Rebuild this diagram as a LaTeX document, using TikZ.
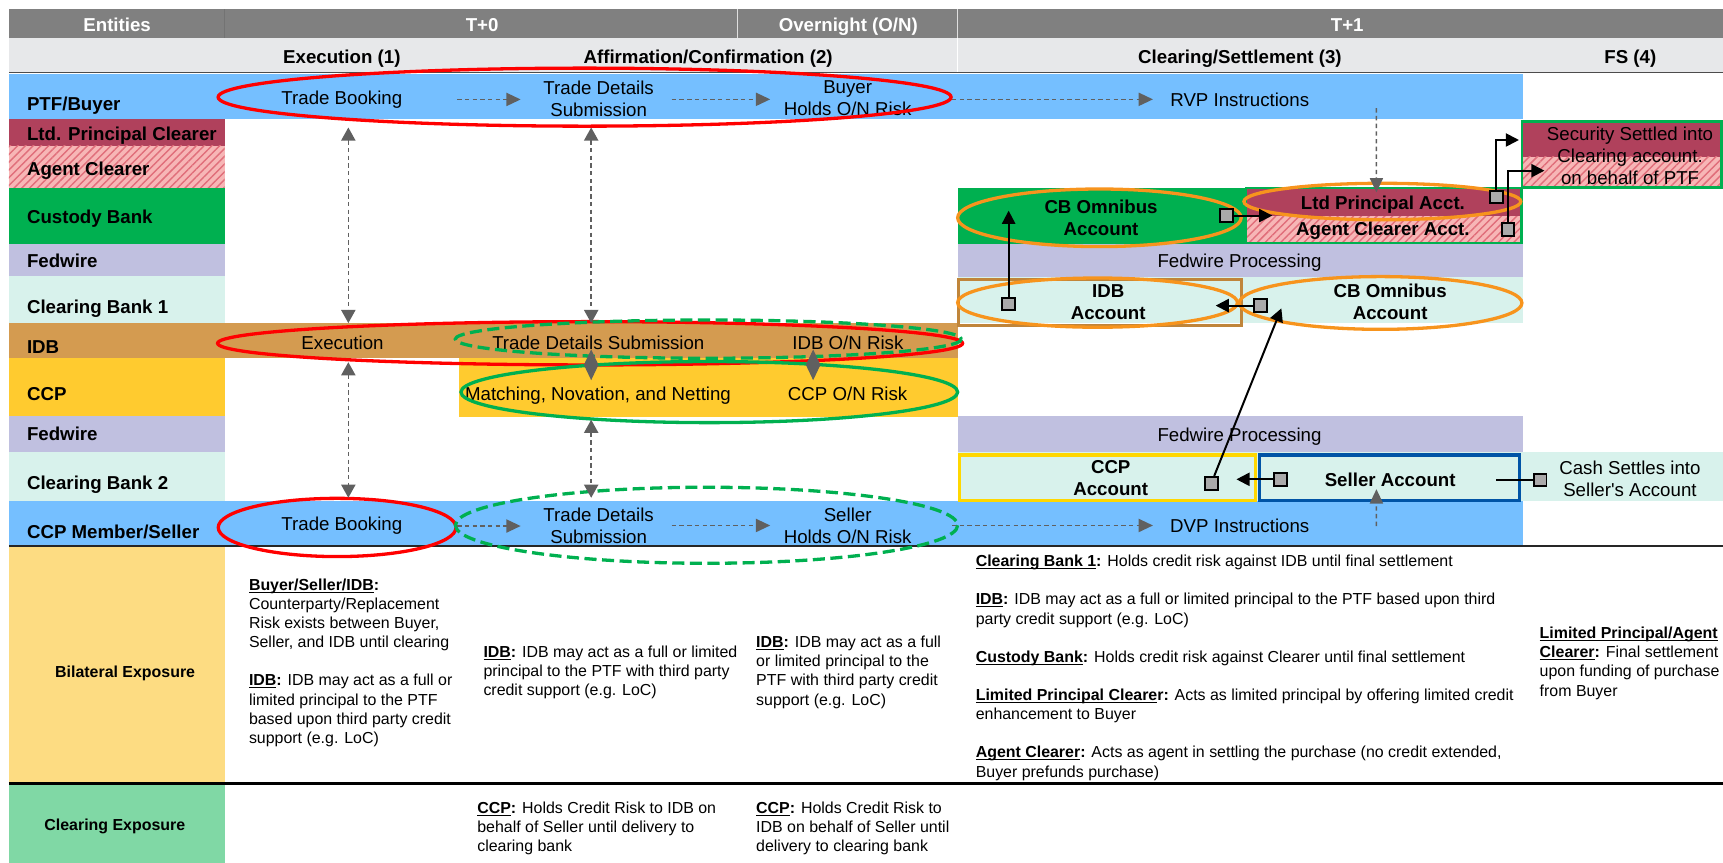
\documentclass[tikz,border=0pt]{standalone}
\usepackage{fontspec}
\setmainfont{Liberation Sans}
\usetikzlibrary{arrows.meta, positioning, calc, patterns.meta}

\definecolor{hdrgray}{RGB}{128,128,128}
\definecolor{subgray}{RGB}{231,232,234}
\definecolor{ptfblue}{RGB}{117,191,255}
\definecolor{ltdred}{RGB}{176,65,92}
\definecolor{hatchbg}{RGB}{247,182,182}
\definecolor{hatchln}{RGB}{224,110,122}
\definecolor{custgreen}{RGB}{0,176,80}
\definecolor{fedlav}{RGB}{192,192,224}
\definecolor{cbmint}{RGB}{216,242,236}
\definecolor{idbtan}{RGB}{212,155,80}
\definecolor{ccpyellow}{RGB}{255,203,47}
\definecolor{bilyellow}{RGB}{253,220,130}
\definecolor{clrgreen}{RGB}{128,216,165}
\definecolor{ringred}{RGB}{255,0,0}
\definecolor{ringgreen}{RGB}{0,176,80}
\definecolor{ringorange}{RGB}{247,148,29}
\definecolor{boxbrown}{RGB}{192,133,58}
\definecolor{boxyellow}{RGB}{255,215,0}
\definecolor{boxblue}{RGB}{0,84,166}
\definecolor{flowgray}{RGB}{96,96,96}
\definecolor{sqgray}{RGB}{170,170,170}

\newcommand{\bodyfont}{\fontsize{17}{20}\selectfont}
\newcommand{\notefont}{\fontsize{14.5}{17.4}\selectfont}
\newcommand{\uhead}[1]{\underline{\raisebox{0pt}[\height][0pt]{\textbf{#1}}}}

\tikzset{
	lbl/.style={anchor=base west, inner sep=0pt, font=\bodyfont\bfseries},
	hdr/.style={anchor=base, inner sep=0pt, text=white, font=\bodyfont\bfseries},
	phase/.style={anchor=base, inner sep=0pt, font=\bodyfont\bfseries},
	txt/.style={align=center, inner sep=0pt},
	acct/.style={txt, font=\bodyfont\bfseries},
	note/.style={anchor=north west, align=left, inner sep=0pt, font=\notefont},
	hatch/.style={pattern={Lines[angle=45,distance=5pt,line width=1.3pt]}, pattern color=hatchln},
	sq/.style={draw=black, fill=sqgray, line width=1.8pt, minimum size=11.5pt, inner sep=0pt},
	flow/.style={draw=flowgray, line width=1.3pt, dash pattern=on 4pt off 3pt, -{Triangle[length=13pt,width=12pt]}},
	dflow/.style={flow, {Triangle[length=12pt,width=13pt]}-{Triangle[length=12pt,width=13pt]}},
	diam/.style={draw=flowgray, fill=flowgray, line width=1pt, {Triangle[length=14pt,width=13pt]}-{Triangle[length=14pt,width=13pt]}},
	blk/.style={draw=black, line width=1.8pt, -{Triangle[length=12pt,width=12pt]}},
	blkline/.style={draw=black, line width=1.8pt},
	redring/.style={draw=ringred, line width=3pt},
	grnring/.style={draw=ringgreen, line width=3pt},
	grndash/.style={grnring, dash pattern=on 11pt off 5pt},
	orgring/.style={draw=ringorange, line width=3pt}
}

\begin{document}
\begin{tikzpicture}[x=1pt, y=-1pt, font=\bodyfont]
	\useasboundingbox (0,0) rectangle (1568,785);
	
	% Header rows
	\fill[hdrgray] (8,8.2) rectangle (1568,34.3);
	\fill[subgray] (8,34.3) rectangle (1568,66);
	\draw[black!55, line width=1pt] (204.4,8.2) -- (204.4,34.3);
	\draw[white!75!gray, line width=1.2pt] (671.3,8.2) -- (671.3,34.3) (871.5,8.2) -- (871.5,34.3);
	\draw[white, line width=0.8pt] (871.5,34.3) -- (871.5,66);
	\draw[black!70, line width=1.2pt] (8,66) -- (1568,66);
	
	% Entity rows
	\fill[ptfblue] (8,67) rectangle (1385.7,108);
	\fill[ltdred] (8,108) rectangle (204.4,132.8);
	\fill[hatchbg] (8,132.8) rectangle (204.4,170.8);
	\fill[hatch] (8,132.8) rectangle (204.4,170.8);
	\fill[custgreen] (8,170.8) rectangle (204.4,221.8);
	\fill[fedlav] (8,221.8) rectangle (204.4,251.5);
	\fill[cbmint] (8,251.5) rectangle (204.4,294);
	\fill[idbtan] (8,294) rectangle (871.5,326);
	\fill[ccpyellow] (8,326) rectangle (204.4,379);
	\fill[ccpyellow] (417.9,326) rectangle (871.5,379.2);
	\fill[fedlav] (8,379) rectangle (204.4,411);
	\fill[cbmint] (8,411) rectangle (204.4,455.5);
	\fill[ptfblue] (8,455.5) rectangle (1385.7,496.8);
	\fill[bilyellow] (8,496.8) rectangle (204.4,712.8);
	\fill[clrgreen] (8,712.8) rectangle (204.4,785);
	
	% T+1 settlement area
	\fill[custgreen] (871.5,171.4) rectangle (1385.7,222);
	\fill[ltdred] (1133.6,171.4) rectangle (1384,197);
	\fill[hatchbg] (1133.6,197) rectangle (1384,221.5);
	\fill[hatch] (1133.6,197) rectangle (1384,221.5);
	\draw[custgreen, line width=2pt] (1133.6,171.4) rectangle (1384,221.5);
	\fill[fedlav] (871.5,222) rectangle (1385.7,251.7);
	\fill[cbmint] (871.5,251.7) rectangle (1385.7,293.6);
	\fill[fedlav] (871.5,378.5) rectangle (1385.7,411);
	\fill[cbmint] (871.5,411) rectangle (1568,455.6);
	\fill[ltdred] (1385,110.7) rectangle (1567,142.6);
	\fill[hatchbg] (1385,142.6) rectangle (1567,170.8);
	\fill[hatch] (1385,142.6) rectangle (1567,170.8);
	\draw[custgreen, line width=2.5pt] (1385,110.7) rectangle (1566.6,170.8);
	\draw[boxbrown, line width=3pt] (872.5,254.5) rectangle (1129.6,296.5);
	\draw[boxyellow, line width=3pt] (873,414) rectangle (1142.8,455.5);
	\draw[boxblue, line width=3pt] (1146.5,414) rectangle (1383,455.5);
	
	% Separators
	\draw[black!85, line width=1.3pt] (8,496.8) -- (1568,496.8);
	\draw[black, line width=2.5pt] (8,712.8) -- (1568,712.8);
	
	% Headers
	\node[hdr] (h-ent) at (106.6,28.8) {Entities};
	\node[hdr] (h-t0) at (438.8,28.8) {T+0};
	\node[hdr] (h-on) at (772,28.8) {Overnight (O/N)};
	\node[hdr] (h-t1) at (1226,28.8) {T+1};
	\node[phase] (p-exec) at (311.1,57.7) {Execution (1)};
	\node[phase] (p-aff) at (644.4,57.7) {Affirmation/Confirmation (2)};
	\node[phase] (p-clr) at (1128.4,57.7) {Clearing/Settlement (3)};
	\node[phase] (p-fs) at (1483.7,57.7) {FS (4)};
	
	% Entities
	\node[lbl] (e-ptf) at (24.4,100.7) {PTF/Buyer};
	\node[lbl] (e-ltd) at (24.4,128) {Ltd. Principal Clearer};
	\node[lbl] (e-agent) at (24.4,159.3) {Agent Clearer};
	\node[lbl] (e-cust) at (24.4,203.3) {Custody Bank};
	\node[lbl] (e-fed1) at (24.4,243.3) {Fedwire};
	\node[lbl] (e-cb1) at (24.4,285.1) {Clearing Bank 1};
	\node[lbl] (e-idb) at (24.4,322.1) {IDB};
	\node[lbl] (e-ccp) at (24.4,364.9) {CCP};
	\node[lbl] (e-fed2) at (24.4,401.3) {Fedwire};
	\node[lbl] (e-cb2) at (24.4,445.9) {Clearing Bank 2};
	\node[lbl] (e-seller) at (24.4,489.9) {CCP Member/Seller};
	\node[font=\notefont\bfseries] (bil) at (113.9,612.5) {Bilateral Exposure};
	\node[font=\notefont\bfseries] (clr) at (104.5,752.5) {Clearing Exposure};
	
	% Process steps
	\node[txt] (ptf-book) at (311.1,90.5) {Trade Booking};
	\node[txt] (ptf-submit) at (544.8,90) {Trade Details\\Submission};
	\node[txt] (ptf-risk) at (771.4,89.5) {Buyer\\Holds O/N Risk};
	\node[txt] (ptf-rvp) at (1128.2,90.5) {RVP Instructions};
	\node[txt] (idb-exec) at (311.7,312) {Execution};
	\node[txt] (idb-submit) at (544.5,312) {Trade Details Submission};
	\node[txt] (idb-risk) at (771.6,312) {IDB O/N Risk};
	\node[txt] (ccp-match) at (544.2,360.4) {Matching, Novation, and Netting};
	\node[txt] (ccp-risk) at (771.4,358.3) {CCP O/N Risk};
	\node[txt] (sel-book) at (311.1,478.7) {Trade Booking};
	\node[txt] (sel-submit) at (544.8,478.2) {Trade Details\\Submission};
	\node[txt] (sel-risk) at (771.4,478.2) {Seller\\Holds O/N Risk};
	\node[txt] (sel-dvp) at (1128.2,478.7) {DVP Instructions};
	
	% Accounts
	\node[acct] (cust-omni) at (1002,198.3) {CB Omnibus\\Account};
	\node[acct] (ltd-acct) at (1258.5,186.6) {Ltd Principal Acct.};
	\node[acct] (agent-acct) at (1258.5,210.3) {Agent Clearer Acct.};
	\node[txt] (fed-proc1) at (1128,239.1) {Fedwire Processing};
	\node[acct] (idb-acct) at (1008.5,274.7) {IDB\\Account};
	\node[acct] (cb1-omni) at (1265.1,274.7) {CB Omnibus\\Account};
	\node[txt] (fed-proc2) at (1128,397.7) {Fedwire Processing};
	\node[acct] (ccp-acct) at (1010.8,435.3) {CCP\\Account};
	\node[acct] (sel-acct) at (1265.1,436.2) {Seller Account};
	\node[txt] (cash-note) at (1483.3,435.3) {Cash Settles into\\Seller\textquotesingle s Account};
	\node[txt] (sec-note) at (1483.4,142) {Security Settled into\\Clearing account.\\on behalf of PTF};
	
	% Exposure notes
	\node[note] (n-bil1) at (226.4,526.5) {\uhead{Buyer/Seller/IDB}\textbf{:}\\
		Counterparty/Replacement\\
		Risk exists between Buyer,\\
		Seller, and IDB until clearing\\[17.4pt]
		\uhead{IDB}\textbf{:} IDB may act as a full or\\
		limited principal to the PTF\\
		based upon third party credit\\
		support (e.g. LoC)};
	\node[note] (n-bil2) at (439.8,587.8) {\uhead{IDB}\textbf{:} IDB may act as a full or limited\\
		principal to the PTF with third party\\
		credit support (e.g. LoC)};
	\node[note] (n-bil3) at (688,578.7) {\uhead{IDB}\textbf{:} IDB may act as a full\\
		or limited principal to the\\
		PTF with third party credit\\
		support (e.g. LoC)};
	\node[note] (n-bil4) at (887.8,505) {\uhead{Clearing Bank 1}\textbf{:} Holds credit risk against IDB until final settlement\\[17.4pt]
		\uhead{IDB}\textbf{:} IDB may act as a full or limited principal to the PTF based upon third\\
		party credit support (e.g. LoC)\\[17.4pt]
		\uhead{Custody Bank}\textbf{:} Holds credit risk against Clearer until final settlement\\[17.4pt]
		\uhead{Limited Principal Cleare}\textbf{r:} Acts as limited principal by offering limited credit\\
		enhancement to Buyer\\[17.4pt]
		\uhead{Agent Clearer}\textbf{:} Acts as agent in settling the purchase (no credit extended,\\
		Buyer prefunds purchase)};
	\node[note] (n-bil5) at (1401,570.5) {\uhead{Limited Principal/Agent}\\
		\uhead{Clearer}\textbf{:} Final settlement\\
		upon funding of purchase\\
		from Buyer};
	\node[note] (n-clr2) at (434.2,729.8) {\uhead{CCP}\textbf{:} Holds Credit Risk to IDB on\\
		behalf of Seller until delivery to\\
		clearing bank};
	\node[note] (n-clr3) at (688,729.8) {\uhead{CCP}\textbf{:} Holds Credit Risk to\\
		IDB on behalf of Seller until\\
		delivery to clearing bank};
	
	% Exposure rings
	\draw[redring] (532,88.4) ellipse [x radius=333.5, y radius=26.4];
	\draw[redring] (537,312.4) ellipse [x radius=339, y radius=19.7];
	\draw[grndash] (644.7,308.6) ellipse [x radius=230.3, y radius=17.4];
	\draw[grnring] (645.5,356.8) ellipse [x radius=226, y radius=27.8];
	\draw[redring] (306.8,480) ellipse [x radius=108.2, y radius=26.5];
	\draw[grndash] (643,478) ellipse [x radius=228.5, y radius=34.6];
	\draw[orgring] (1000.5,198.2) ellipse [x radius=129, y radius=26.2];
	\draw[orgring] (1258,183.4) ellipse [x radius=126, y radius=16.6];
	\draw[orgring] (998.8,275.4) ellipse [x radius=127.3, y radius=22.4];
	\draw[orgring] (1256.4,275.7) ellipse [x radius=128.6, y radius=24];
	
	% Markers
	\node[sq] (sq-cust) at (1116.3,196.2) {};
	\node[sq] (sq-ltd) at (1361.7,179.3) {};
	\node[sq] (sq-agent) at (1372.4,208.7) {};
	\node[sq] (sq-idb) at (917.9,276.6) {};
	\node[sq] (sq-cb1) at (1146.9,278.1) {};
	\node[sq] (sq-ccp) at (1102.3,439.8) {};
	\node[sq] (sq-sel) at (1165.5,436.2) {};
	\node[sq] (sq-cash) at (1401.6,436.8) {};
	\coordinate (cust-in) at (917.9,191.7);
	\coordinate (ltd-in) at (1157.8,196.2);
	\coordinate (sec-in1) at (1382.3,127.4);
	\coordinate (sec-in2) at (1405.5,155.3);
	\coordinate (idb-in) at (1106.3,278.1);
	\coordinate (cb1-in) at (1166.1,280.6);
	\coordinate (ccp-in) at (1125.2,436.2);
	\coordinate (sel-out) at (1361.7,436.8);
	
	% Trade flow
	\draw[flow] ($(ptf-book)+(105,0)$) -- ($(ptf-submit)+(-71,0.5)$);
	\draw[flow] ($(ptf-submit)+(66.5,0.4)$) -- ($(ptf-risk)+(-70.5,0.9)$);
	\draw[flow] ($(ptf-risk)+(95,0.9)$) -- ($(ptf-rvp)+(-79,-0.1)$);
	\draw[flow] ($(sel-book)+(105,0)$) -- ($(sel-submit)+(-71,0.5)$);
	\draw[flow] ($(sel-submit)+(66.5,0)$) -- ($(sel-risk)+(-70.5,0)$);
	\draw[flow] ($(sel-risk)+(95,0)$) -- ($(sel-dvp)+(-79,-0.5)$);
	\draw[dflow] ($(ptf-book)+(5.9,25.5)$) -- ($(idb-exec)+(5.3,-18)$);
	\draw[dflow] ($(idb-exec)+(5.3,17.6)$) -- ($(sel-book)+(5.9,-25.7)$);
	\draw[dflow] ($(ptf-submit)+(-6.8,26)$) -- ($(idb-submit)+(-6.5,-18)$);
	\draw[dflow] ($(ccp-match)+(-6.2,21.6)$) -- ($(sel-submit)+(-6.8,-25.2)$);
	\draw[diam] ($(idb-submit)+(-6.5,6)$) -- ($(ccp-match)+(-6.2,-14.4)$);
	\draw[diam] ($(idb-risk)+(-31.6,6)$) -- ($(ccp-risk)+(-31.4,-12.3)$);
	\draw[flow] ($(ptf-rvp)+(124.4,8)$) -- ($(ltd-acct)+(-5.9,-11.6)$);
	\draw[flow] ($(sel-dvp)+(124.4,0)$) -- ($(sel-acct)+(-12.5,9)$);
	
	% Settlement moves
	\draw[blk] (sq-idb) -- (cust-in);
	\draw[blk] (sq-cust) -- (ltd-in);
	\draw[blk] (sq-ltd) |- (sec-in1);
	\draw[blk] (sq-agent) |- (sec-in2);
	\draw[blk] (sq-cb1) -- (idb-in);
	\draw[blk] (sq-ccp) -- (cb1-in);
	\draw[blk] (sq-sel) -- (ccp-in);
	\draw[blkline] (sel-out) -- (sq-cash);
\end{tikzpicture}
\end{document}
